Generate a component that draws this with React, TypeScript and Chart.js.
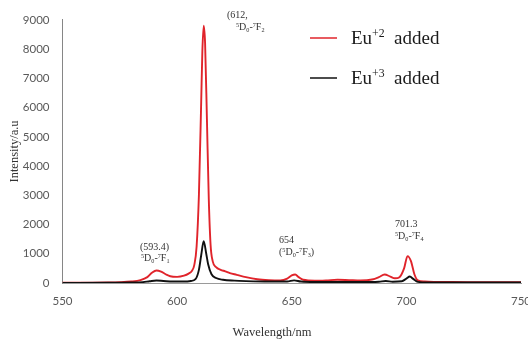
import React, { useEffect, useRef } from "react";
import { Chart, registerables } from "chart.js";

Chart.register(...registerables);

// Emission spectra (wavelength in nm, intensity in a.u.)
const wavelengthEu2 = [550, 560, 570, 575, 580, 584, 587, 589, 591, 593, 595, 597, 600, 603, 605, 606.5, 607.5, 608.5, 609.5, 610.5, 611, 611.6, 612.2, 613, 613.8, 614.6, 615.5, 617, 619, 621, 623, 626, 630, 635, 640, 645, 648, 650, 651.5, 653, 655, 660, 665, 670, 675, 680, 685, 688, 690.5, 693, 695, 697, 699, 700.5, 702, 703.5, 705, 708, 712, 720, 730, 740, 750];
const intensityEu2 = [10, 10, 15, 25, 50, 100, 200, 350, 430, 390, 300, 230, 210, 250, 320, 420, 620, 1250, 3000, 6200, 7900, 8800, 8200, 5600, 2900, 1300, 750, 540, 450, 400, 340, 280, 200, 130, 100, 90, 150, 260, 290, 200, 110, 80, 90, 110, 100, 90, 120, 200, 290, 220, 160, 200, 500, 920, 750, 300, 90, 50, 40, 35, 30, 25, 25];

const wavelengthEu3 = [550, 570, 580, 585, 588, 591, 594, 598, 603, 606, 608, 609.5, 610.5, 611.6, 612.7, 613.5, 615, 617, 620, 625, 630, 640, 648, 651, 654, 660, 680, 688, 691, 694, 698, 700, 701.5, 703, 705, 710, 730, 750];
const intensityEu3 = [5, 8, 15, 30, 60, 85, 70, 50, 50, 70, 130, 450, 950, 1430, 1000, 650, 300, 170, 110, 80, 65, 50, 50, 90, 50, 35, 35, 45, 70, 45, 60, 150, 220, 140, 40, 20, 15, 15];

const xTicks = [550, 600, 650, 700, 750];
const yTicks = [0, 1000, 2000, 3000, 4000, 5000, 6000, 7000, 8000, 9000];

type Part = [string, "n" | "sup" | "sub"];
const seriesNames: Part[][] = [
  [["Eu", "n"], ["+2", "sup"], ["  added", "n"]],
  [["Eu", "n"], ["+3", "sup"], ["  added", "n"]],
];
const term = (j: string): Part[] => [["5", "sup"], ["D", "n"], ["0", "sub"], ["-", "n"], ["7", "sup"], ["F", "n"], [j, "sub"]];
const annotations: { x: number; y: number; parts: Part[] }[] = [
  { x: 227, y: 15, parts: [["(612,", "n"]] },
  { x: 236, y: 27, parts: term("2") },
  { x: 140, y: 247, parts: [["(593.4)", "n"]] },
  { x: 141, y: 258, parts: term("1") },
  { x: 279, y: 240, parts: [["654", "n"]] },
  { x: 279, y: 252, parts: [["(", "n"], ...term("3"), [")", "n"]] },
  { x: 395, y: 224, parts: [["701.3", "n"]] },
  { x: 395, y: 236, parts: term("4") },
];

const SERIF = '"Liberation Serif", "Times New Roman", serif';

function drawRich(ctx: CanvasRenderingContext2D, x: number, yCenter: number, parts: Part[], size: number, color: string) {
  ctx.save();
  ctx.fillStyle = color;
  ctx.textBaseline = "alphabetic";
  ctx.textAlign = "left";
  const base = yCenter + size * 0.33;
  let cx = x;
  for (const [t, kind] of parts) {
    const s = kind === "n" ? size : size * 0.62;
    const dy = kind === "sup" ? -size * 0.38 : kind === "sub" ? size * 0.2 : 0;
    ctx.font = `${s}px ${SERIF}`;
    ctx.fillText(t, cx, base + dy);
    cx += ctx.measureText(t).width;
  }
  ctx.restore();
}

const overlay = {
  id: "overlay",
  afterDraw(chart: any) {
    const ctx: CanvasRenderingContext2D = chart.ctx;
    const area = chart.chartArea;
    // axis titles
    ctx.save();
    ctx.fillStyle = "#333";
    ctx.font = `12.5px ${SERIF}`;
    ctx.textAlign = "center";
    ctx.textBaseline = "middle";
    ctx.fillText("Wavelength/nm", 272, 333);
    ctx.translate(15, (area.top + area.bottom) / 2);
    ctx.rotate(-Math.PI / 2);
    ctx.fillText("Intensity/a.u", 0, 0);
    ctx.restore();
    // legend
    const colors = chart.data.datasets.map((d: any) => d.borderColor);
    const ys = [38, 78];
    seriesNames.forEach((parts, i) => {
      ctx.save();
      ctx.strokeStyle = colors[i];
      ctx.lineWidth = 1.5;
      ctx.beginPath();
      ctx.moveTo(310, ys[i]);
      ctx.lineTo(337, ys[i]);
      ctx.stroke();
      ctx.restore();
      drawRich(ctx, 351, ys[i], parts, 19, "#1a1a1a");
    });
    // annotations
    for (const a of annotations) drawRich(ctx, a.x, a.y, a.parts, 10, "#333");
  },
};

export default function App() {
  const ref = useRef<HTMLCanvasElement>(null);
  useEffect(() => {
    document.body.style.margin = "0";
    const chart = new Chart(ref.current!, {
      type: "line",
      data: {
        datasets: [
          {
            label: "Eu+2 added",
            data: wavelengthEu2.map((x, i) => ({ x, y: intensityEu2[i] })),
            borderColor: "#e0242b",
            borderWidth: 1.9,
            pointRadius: 0,
            cubicInterpolationMode: "monotone",
            order: 2,
          },
          {
            label: "Eu+3 added",
            data: wavelengthEu3.map((x, i) => ({ x, y: intensityEu3[i] })),
            borderColor: "#111111",
            borderWidth: 1.9,
            pointRadius: 0,
            cubicInterpolationMode: "monotone",
            order: 1,
          },
        ],
      },
      options: {
        animation: false,
        responsive: false,
        devicePixelRatio: 1,
        layout: { padding: { left: 0, right: 24, top: 12, bottom: 0 } },
        plugins: { legend: { display: false }, tooltip: { enabled: false } },
        scales: {
          x: {
            type: "linear",
            min: 550,
            max: 750,
            afterBuildTicks: (s: any) => { s.ticks = xTicks.map((v) => ({ value: v })); },
            afterFit: (s: any) => { s.height = 58; },
            grid: { display: false, drawTicks: false },
            border: { display: true, color: "#9a9a9a", width: 1 },
            ticks: { color: "#595959", font: { family: "Lato", size: 11.5 }, padding: 11, maxRotation: 0, autoSkip: false, callback: (v: any) => String(v) },
          },
          y: {
            min: 0,
            max: 9000,
            afterBuildTicks: (s: any) => { s.ticks = yTicks.map((v) => ({ value: v })); },
            afterFit: (s: any) => { s.width = 62.5; },
            grid: { display: false, drawTicks: false },
            border: { display: true, color: "#868686", width: 1 },
            ticks: { color: "#595959", font: { family: "Lato", size: 11.5 }, padding: 13, autoSkip: false, callback: (v: any) => String(v) },
          },
        },
      },
      plugins: [overlay],
    } as any);
    return () => chart.destroy();
  }, []);
  return (
    <div style={{ position: "absolute", left: 0, top: 0, width: 528, height: 341, overflow: "hidden", background: "#fff" }}>
      <canvas ref={ref} width={545} height={341} style={{ display: "block" }} />
    </div>
  );
}
